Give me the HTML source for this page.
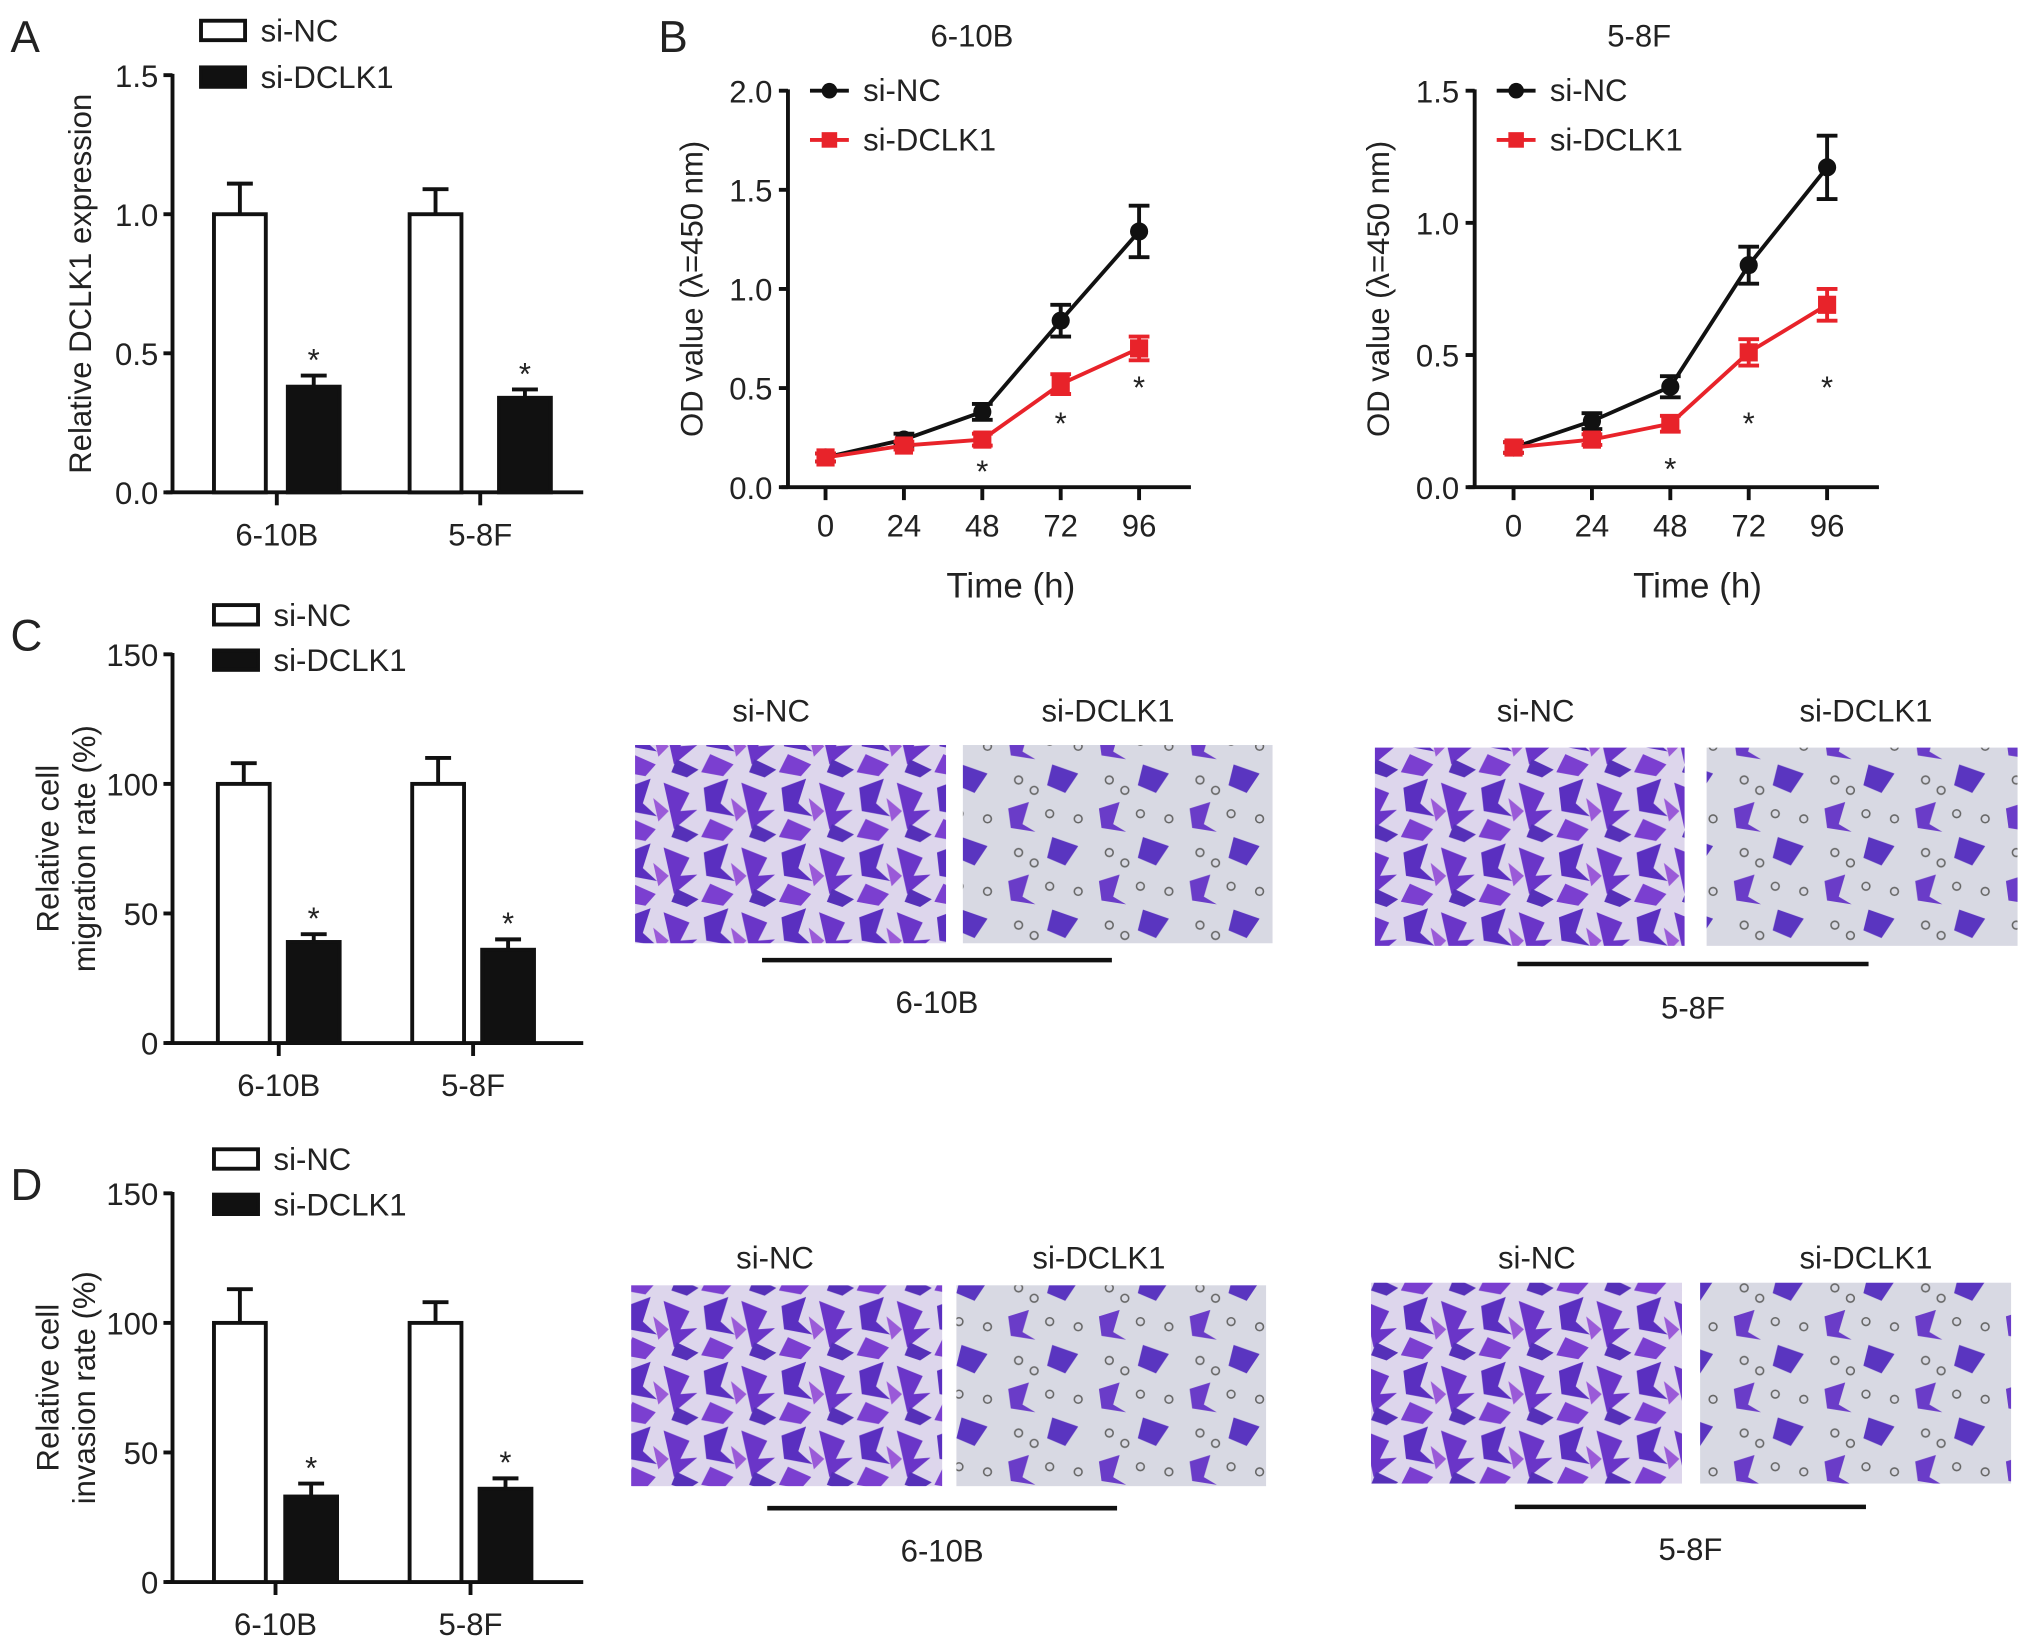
<!DOCTYPE html>
<html><head><meta charset="utf-8">
<style>
html,body{margin:0;padding:0;background:#fff;}
svg{display:block;}
text{font-family:"Liberation Sans",Arial,sans-serif;fill:#222;}
</style></head>
<body>
<svg id="fig" width="2032" height="1652" viewBox="0 0 1568 1275" xmlns="http://www.w3.org/2000/svg">
<defs>
<pattern id="cellsDense" patternUnits="userSpaceOnUse" width="60" height="50">
<rect width="60" height="50" fill="#ddd6ec"/>
<polygon points="3,8 22,1 16,20 27,30 5,26" fill="#5a2fc0"/>
<polygon points="32,4 52,12 45,26 58,25 40,40" fill="#6a35c8"/>
<polygon points="8,32 26,40 18,49 1,46" fill="#7b3fd0"/>
<polygon points="42,36 59,44 50,50 38,46" fill="#5530b8"/>
<polygon points="24,16 36,26 28,34" fill="#9a5ad8"/>
</pattern>
<pattern id="cellsSparse" patternUnits="userSpaceOnUse" width="70" height="56">
<rect width="70" height="56" fill="#d8d9e3"/>
<polygon points="8,8 24,3 19,20 29,26 10,23" fill="#6a3cc8"/>
<polygon points="42,30 62,37 52,52 38,46" fill="#5a35c0"/>
<circle cx="40" cy="12" r="3" fill="none" stroke="#666" stroke-width="1.2"/>
<circle cx="16" cy="42" r="3" fill="none" stroke="#666" stroke-width="1.2"/>
<circle cx="62" cy="16" r="3" fill="none" stroke="#666" stroke-width="1.2"/>
<circle cx="28" cy="50" r="3" fill="none" stroke="#666" stroke-width="1.2"/>
</pattern>
</defs>
</svg>
<script>
// ---------- data ----------
const barCategories = ["6-10B","5-8F"];
const expNC = [1.0, 1.0];
const expNCErr = [0.11, 0.09];
const expKD = [0.38, 0.34];
const expKDErr = [0.04, 0.03];
const expTicks = [0, 0.5, 1.0, 1.5];
const expTickLabels = ["0.0","0.5","1.0","1.5"];

const migNC = [100, 100];
const migNCErr = [8, 10];
const migKD = [39, 36];
const migKDErr = [3, 4];
const pctTicks = [0, 50, 100, 150];
const pctTickLabels = ["0","50","100","150"];

const invNC = [100, 100];
const invNCErr = [13, 8];
const invKD = [33, 36];
const invKDErr = [5, 4];

const timePoints = [0, 24, 48, 72, 96];
const od1NC = [0.15, 0.24, 0.38, 0.84, 1.29];
const od1NCErr = [0.02, 0.03, 0.04, 0.08, 0.13];
const od1KD = [0.15, 0.21, 0.24, 0.52, 0.70];
const od1KDErr = [0.02, 0.02, 0.03, 0.05, 0.06];
const od1Ticks = [0, 0.5, 1.0, 1.5, 2.0];
const od2NC = [0.15, 0.25, 0.38, 0.84, 1.21];
const od2NCErr = [0.02, 0.03, 0.04, 0.07, 0.12];
const od2KD = [0.15, 0.18, 0.24, 0.51, 0.69];
const od2KDErr = [0.02, 0.02, 0.03, 0.05, 0.06];
const od2Ticks = [0, 0.5, 1.0, 1.5];
const starTimes = [48, 72, 96];

// ---------- helpers ----------
const NS="http://www.w3.org/2000/svg";
const svg=document.getElementById('fig');
function mk(tag,attrs,parent){const e=document.createElementNS(NS,tag);for(const k in attrs)e.setAttribute(k,attrs[k]);(parent||svg).appendChild(e);return e;}
function txt(s,x,y,size,anchor,parent,extra){const t=mk('text',Object.assign({x:x,y:y,'font-size':size,'text-anchor':anchor||'middle'},extra||{}),parent);t.textContent=s;return t;}
function line(x1,y1,x2,y2,w,c,parent){return mk('line',{x1,y1,x2,y2,stroke:c||'#111','stroke-width':w||2.5},parent);}

function barChart(name,y0,y150,max,nc,ncErr,kd,kdErr,ticks,tickLabels,titleLines,letter,letterY,legY,barXs){
  const g=mk('g',{});
  
  
  const ys=v=>y0-(v/max)*(y0-y150);
  const L=txt(letter,8,letterY,34,'start',svg);
  
  
  const lg=mk('g',{},g);
  
  
  const r1=mk('rect',{x:legY[0],y:legY[1]-8,width:34,height:15,fill:'#fff',stroke:'#111','stroke-width':3},lg);
  
  txt('si-NC',legY[0]+46,legY[1]+8,24,'start',lg);
  const r2=mk('rect',{x:legY[0],y:legY[2]-8,width:34,height:15,fill:'#111',stroke:'#111','stroke-width':3},lg);
  
  txt('si-DCLK1',legY[0]+46,legY[2]+8,24,'start',lg);
  const ax=line(133,ys(max)-1,133,y0+1,3,'#111',g);
  
  const xa=line(128,y0,450,y0,3,'#111',g);
  
  ticks.forEach((v,i)=>{line(126,ys(v),133,ys(v),3,'#111',g);
    const t=txt(tickLabels[i],122,ys(v)+9,24,'end',g);});
  const cy=(y0+ys(max))/2;
  if(titleLines.length===1){const t=txt(titleLines[0],0,0,24,'middle',g,{transform:`translate(70,${cy}) rotate(-90)`});}
  else{const t1=txt(titleLines[0],0,0,24,'middle',g,{transform:`translate(45,${cy}) rotate(-90)`});
    const t2=txt(titleLines[1],0,0,24,'middle',g,{transform:`translate(73,${cy}) rotate(-90)`});}
  barCategories.forEach((c,i)=>{
    const bx=barXs[i];
    line(bx[0]+20,ys(nc[i]),bx[0]+20,ys(nc[i]+ncErr[i]),3,'#111',g);
    line(bx[0]+10,ys(nc[i]+ncErr[i]),bx[0]+30,ys(nc[i]+ncErr[i]),3,'#111',g);
    const b1=mk('rect',{x:bx[0],y:ys(nc[i]),width:40,height:y0-ys(nc[i]),fill:'#fff',stroke:'#111','stroke-width':3},g);
    
    line(bx[1]+20,ys(kd[i]),bx[1]+20,ys(kd[i]+kdErr[i]),3,'#111',g);
    line(bx[1]+10,ys(kd[i]+kdErr[i]),bx[1]+30,ys(kd[i]+kdErr[i]),3,'#111',g);
    const b2=mk('rect',{x:bx[1],y:ys(kd[i]),width:40,height:y0-ys(kd[i]),fill:'#111',stroke:'#111','stroke-width':3},g);
    
    const s=txt('*',bx[1]+20,ys(kd[i]+kdErr[i])-4,24,'middle',g);
    
    const cx=(bx[0]+bx[1]+40)/2;
    line(cx,y0,cx,y0+10,3,'#111',g);
    const xl=txt(c,cx,y0+41,24,'middle',g);
    
  });
}

barChart('bar-chart-dclk1-expression',380,58,1.5,expNC,expNCErr,expKD,expKDErr,expTicks,expTickLabels,['Relative DCLK1 expression'],'A',40,[155,24,60],[[165,222],[316,385]]);
barChart('bar-chart-migration',805,505,150,migNC,migNCErr,migKD,migKDErr,pctTicks,pctTickLabels,['Relative cell','migration rate (%)'],'C',502,[165,475,510],[[168,222],[318,372]]);
barChart('bar-chart-invasion',1221,921,150,invNC,invNCErr,invKD,invKDErr,pctTicks,pctTickLabels,['Relative cell','invasion rate (%)'],'D',926,[165,895,930],[[165,220],[316,370]]);

// ---------- line charts ----------
function lineChart(name,ax,x0,x96,y0,yTop,max,ticks,nc,ncE,kd,kdE,title,titleX,starY,timeX){
  const g=mk('g',{});
  
  
  const xs=t=>x0+(t/96)*(x96-x0);
  const ys=v=>y0-(v/max)*(y0-yTop);
  const tt=txt(title,titleX,36,24,'middle',g);
  const ya=line(ax,yTop-1,ax,y0+1,3,'#111',g);
  const xa=line(ax-5,y0,x96+40,y0,3,'#111',g);
  ticks.forEach(v=>{line(ax-7,ys(v),ax,ys(v),3,'#111',g);
    const t=txt(v.toFixed(1),ax-12,ys(v)+9,24,'end',g);});
  timePoints.forEach(t=>{line(xs(t),y0,xs(t),y0+10,3,'#111',g);
    const l=txt(String(t),xs(t),y0+38,24,'middle',g);});
  const yt=txt('OD value (λ=450 nm)',0,0,24,'middle',g,{transform:`translate(${ax-66},${(y0+yTop)/2}) rotate(-90)`});
  
  const xt=txt('Time (h)',timeX,y0+85,27,'middle',g);
  function series(vals,errs,color,marker,sname){
    const sg=mk('g',{},g);
    
    
    mk('polyline',{points:vals.map((v,i)=>xs(timePoints[i])+','+ys(v)).join(' '),fill:'none',stroke:color,'stroke-width':3},sg);
    vals.forEach((v,i)=>{const x=xs(timePoints[i]);
      line(x,ys(v-errs[i]),x,ys(v+errs[i]),3,color,sg);
      line(x-8,ys(v-errs[i]),x+8,ys(v-errs[i]),3,color,sg);
      line(x-8,ys(v+errs[i]),x+8,ys(v+errs[i]),3,color,sg);
      let m;
      if(marker==='circle') m=mk('circle',{cx:x,cy:ys(v),r:7,fill:color},sg);
      else m=mk('rect',{x:x-7,y:ys(v)-7,width:14,height:14,fill:color},sg);
      
    });
  }
  series(nc,ncE,'#111','circle','si-nc');
  series(kd,kdE,'#e8232a','square','si-dclk1');
  starTimes.forEach((t,i)=>{const s=txt('*',xs(t),starY[i],24,'middle',g);});
  const lg=mk('g',{},g);
  
  
  line(ax+17,yTop,ax+47,yTop,3,'#111',lg);mk('circle',{cx:ax+32,cy:yTop,r:6,fill:'#111'},lg);
  txt('si-NC',ax+58,yTop+8,24,'start',lg);
  line(ax+17,yTop+38,ax+47,yTop+38,3,'#e8232a',lg);mk('rect',{x:ax+26,y:yTop+32,width:12,height:12,fill:'#e8232a'},lg);
  txt('si-DCLK1',ax+58,yTop+46,24,'start',lg);
}
const LB=txt('B',508,40,34,'start');
lineChart('line-chart-6-10b',608,637,879,376,70,2.0,od1Ticks,od1NC,od1NCErr,od1KD,od1KDErr,'6-10B',750,[372,335,307],780);
lineChart('line-chart-5-8f',1138,1168,1410,376,70,1.5,od2Ticks,od2NC,od2NCErr,od2KD,od2KDErr,'5-8F',1265,[370,335,307],1310);

// ---------- micrographs ----------
function micro(name,x,y,w,h,dense){
  const r=mk('rect',{x:x,y:y,width:w,height:h,fill:dense?'url(#cellsDense)':'url(#cellsSparse)'});
  
  
}
micro('migration-6-10b-si-nc-image',490,575,240,153,true);
micro('migration-6-10b-si-dclk1-image',743,575,239,153,false);
micro('migration-5-8f-si-nc-image',1061,577,239,153,true);
micro('migration-5-8f-si-dclk1-image',1317,577,240,153,false);
micro('invasion-6-10b-si-nc-image',487,992,240,155,true);
micro('invasion-6-10b-si-dclk1-image',738,992,239,155,false);
micro('invasion-5-8f-si-nc-image',1058,990,240,155,true);
micro('invasion-5-8f-si-dclk1-image',1312,990,240,155,false);
function lab(s,x,y,n){const t=txt(s,x,y,24,'middle');}
lab('si-NC',595,557,'image-label');lab('si-DCLK1',855,557,'image-label');
lab('si-NC',1185,557,'image-label');lab('si-DCLK1',1440,557,'image-label');
lab('si-NC',598,979,'image-label');lab('si-DCLK1',848,979,'image-label');
lab('si-NC',1186,979,'image-label');lab('si-DCLK1',1440,979,'image-label');
function grp(x1,x2,y,s,ty){const l=line(x1,y,x2,y,3.5,'#111');lab(s,(x1+x2)/2,ty,'cell-line-label');}
grp(588,858,741,'6-10B',782);grp(1171,1442,744,'5-8F',786);
grp(592,862,1164,'6-10B',1205);grp(1169,1440,1163,'5-8F',1204);
</script>
</body></html>
